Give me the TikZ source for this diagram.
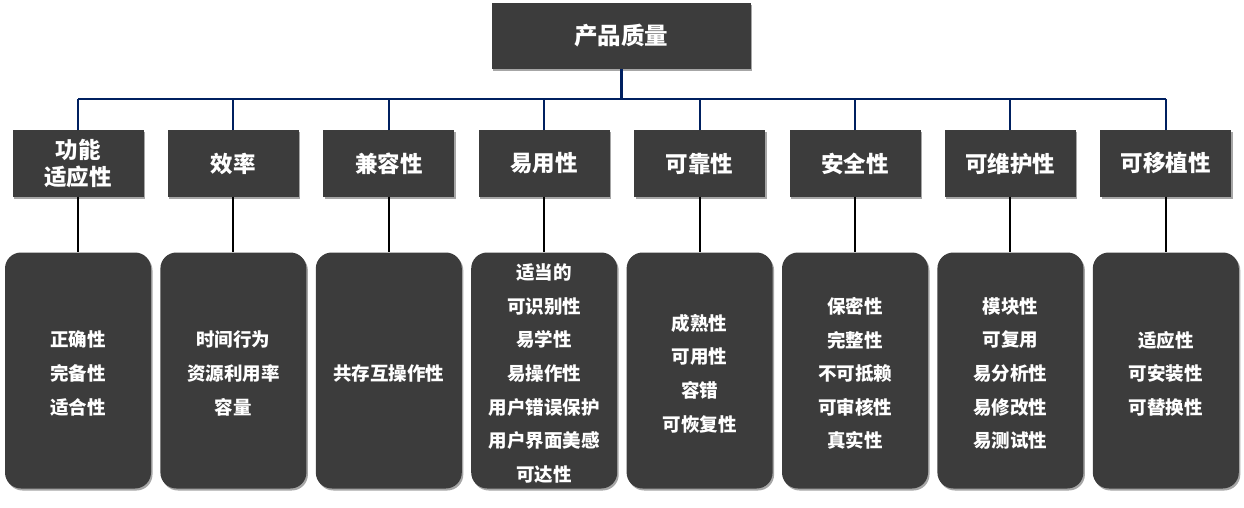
\documentclass[tikz,border=0pt]{standalone}
\usepackage{fontspec}
\setmainfont{Noto Sans CJK SC}
\usetikzlibrary{shadows}
\definecolor{boxfill}{HTML}{3C3C3C}
\definecolor{navy}{HTML}{002060}
\begin{document}
\begin{tikzpicture}[x=1pt,y=-1pt,
  boxshadow/.style={drop shadow={shadow xshift=1.5pt,shadow yshift=-2pt,opacity=0.35,fill=black}},
  topbox/.style={fill=boxfill,text=white,font=\bfseries\fontsize{23.5}{28}\selectfont,
    minimum width=259pt,minimum height=66pt,inner sep=0pt,boxshadow},
  catbox/.style={fill=boxfill,text=white,font=\bfseries\fontsize{22.5}{27.5}\selectfont,
    minimum width=131pt,minimum height=66pt,inner sep=0pt,align=center,boxshadow},
  subbox/.style={fill=boxfill,minimum width=146pt,minimum height=236pt,inner sep=0pt,
    rounded corners=16pt,boxshadow},
  subtext/.style={text=white,font=\bfseries\fontsize{18.5}{33.6}\selectfont,inner sep=0pt,align=center},
  busline/.style={draw=navy,line width=2pt},
  stemline/.style={draw=navy,line width=3pt},
  subline/.style={draw=black,line width=2pt}]
\useasboundingbox (0,0) rectangle (1244,508);
\coordinate (busy) at (0,99);
\node[topbox] (top) at (621,36) {产品质量};
\foreach \i/\lab/\items in {
  1/{功能\\适应性}/{正确性\\完备性\\适合性},
  2/{效率}/{时间行为\\资源利用率\\容量},
  3/{兼容性}/{共存互操作性},
  4/{易用性}/{适当的\\可识别性\\易学性\\易操作性\\用户错误保护\\用户界面美感\\可达性},
  5/{可靠性}/{成熟性\\可用性\\容错\\可恢复性},
  6/{安全性}/{保密性\\完整性\\不可抵赖\\可审核性\\真实性},
  7/{可维护性}/{模块性\\可复用\\易分析性\\易修改性\\易测试性},
  8/{可移植性}/{适应性\\可安装性\\可替换性}}{
  \pgfmathsetmacro{\cx}{78+(\i-1)*155.4}
  \node[catbox] (c\i) at (\cx,163.5) {\lab};
  \node[subbox] (b\i) at (\cx,370.5) {};
  \node[subtext] (t\i) at ([yshift=-3pt]b\i.center) {\items};
  \draw[subline] (c\i.south) -- (b\i.north);
  \draw[busline] (c\i.north) -- (c\i.north |- busy);
}
\draw[busline] (c1.north |- busy) -- (c8.north |- busy);
\draw[stemline] (top.south) -- (top.south |- busy);
\end{tikzpicture}
\end{document}
